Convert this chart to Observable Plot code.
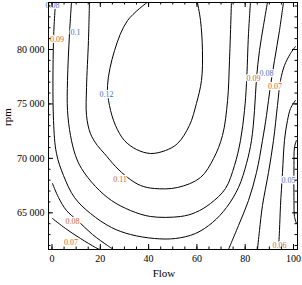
<!DOCTYPE html>
<html>
<head>
<meta charset="utf-8">
<script src="https://cdn.jsdelivr.net/npm/d3@7"></script>
<script src="https://cdn.jsdelivr.net/npm/@observablehq/plot@0.6"></script>
<style>
html, body { margin: 0; padding: 0; background: #fff; }
#chart svg { display: block; }
</style>
</head>
<body>
<div id="chart"></div>
<script>
// Axis ticks
const xMajor = [0, 20, 40, 60, 80, 100];
const xMinor = d3.range(0, 101, 5);
const yMajor = [65000, 70000, 75000, 80000];
const yTickLabels = ["65 000", "70 000", "75 000", "80 000"];
const yMinor = d3.range(62000, 84001, 1000);

// Contour lines: [Flow, rpm]
const c012 = [[39.5,84340],[31.3,82664],[25.9,79908],[23.0,76693],[23.8,74856],[26.3,73019],[30.0,71642],[35.0,70815],[40.8,70448],[47.0,70723],[52.0,71367],[56.9,73019],[59.8,75040],[61.9,77153],[62.3,79908],[61.5,82664],[60.2,84340]];
const c011 = [[15.5,84340],[15.1,80827],[14.3,76510],[14.3,73938],[15.9,72285],[18.8,71182],[21.7,70448],[26.3,69254],[31.3,68243],[36.7,67508],[42.4,67233],[52.0,67325],[61.5,68243],[66.9,69989],[70.6,72101],[72.7,75316],[73.5,78990],[74.3,84340]];
const c010 = [[8.07,84340],[7.25,81470],[6.42,77153],[6.42,74397],[7.66,72101],[9.73,70264],[12.22,69070],[18.01,67417],[24.64,66131],[32.5,65212],[40.79,64661],[53.21,64661],[59.42,65029],[65.63,65855],[71.84,67233],[75.57,69346],[78.05,71642],[79.71,74397],[80.54,76877],[81.37,81470],[82.19,84340]];
const c009 = [[1.45,84340],[0.62,80827],[0.62,73479],[1.86,70448],[4.76,68427],[9.32,66406],[15.94,64937],[24.64,63651],[32.5,63008],[42.44,62641],[51.14,62641],[59.42,63100],[66.46,64110],[72.26,65488],[77.23,67325],[80.54,69530],[82.61,71642],[83.85,74397],[84.68,77336],[85.92,79908],[87.58,82204],[89.23,84340]];
const c008a = [[0.2,67692],[2.69,66406],[6.0,65212],[10.56,64294],[16.77,63008],[22.98,61997],[25.47,61630]];
const c008b = [[95.86,84340],[94.2,81745],[92.13,78990],[90.48,76693],[88.82,73938],[87.16,71642],[84.68,68702],[81.37,66131],[77.23,63834],[73.08,61630]];
const c007a = [[0.2,64477],[5.59,63559],[11.8,62641],[18.01,61814],[19.67,61630]];
const c007b = [[100.8,80276],[98.76,79633],[96.27,78530],[94.62,77153],[93.37,74856],[91.72,71642],[89.65,68702],[87.16,65672],[85.92,63375],[85.09,61630]];
const c006 = [[100.8,75316],[98.76,74581],[97.52,73479],[96.27,71642],[95.45,68702],[94.62,65672],[94.2,63375],[93.79,61630]];
const c005 = [[101.2,71642],[100.41,70999],[100.2,69346],[100.2,66131],[100.41,64661],[101.2,64018]];

const contours = [
  ["0.12", c012], ["0.11", c011], ["0.1", c010], ["0.09", c009],
  ["0.08a", c008a], ["0.08b", c008b], ["0.07a", c007a], ["0.07b", c007b],
  ["0.06", c006], ["0.05", c005]
];
const lineRows = contours.flatMap(([id, pts]) => pts.map(([flow, rpm]) => ({id, flow, rpm})));

// Contour labels
const labelText  = ["0.08","0.09","0.1","0.12","0.11","0.08","0.07","0.06","0.05","0.09","0.08","0.07"];
const labelFlow  = [0.2, 2.07, 9.73, 22.57, 28.16, 8.49, 7.87, 94.2, 97.93, 83.44, 88.82, 92.34];
const labelRpm   = [84041, 80964, 81561, 75913, 68105, 64248, 62319, 61997, 67968, 77336, 77842, 76602];
const labelTone  = ["b","o","b","b","o","o","o","o","b","o","b","o"];
const labels = labelText.map((t, i) => ({t, flow: labelFlow[i], rpm: labelRpm[i], tone: labelTone[i]}));

const serif = "'Liberation Serif', 'Times New Roman', serif";
const W = 302, H = 285, mL = 48, mR = 5, mT = 2, mB = 36;
const fw = W - mL - mR, fh = H - mT - mB;

const chart = Plot.plot({
  width: W, height: H,
  marginLeft: mL, marginRight: mR, marginTop: mT, marginBottom: mB,
  style: {fontFamily: serif, fontSize: "10px", background: "#fff", color: "#000"},
  x: {domain: [-1.45, 101.66], label: null},
  y: {domain: [61630, 84317], label: null},
  marks: [
    Plot.line(lineRows, {x: "flow", y: "rpm", z: "id", stroke: "black", strokeWidth: 1, curve: "catmull-rom", clip: true}),
    Plot.text(labels.filter(d => d.tone === "b"), {x: "flow", y: "rpm", text: "t", fill: "#3f72c6", stroke: "white", strokeWidth: 2.5, fontSize: 8, fontFamily: serif}),
    Plot.text(labels.filter(d => d.tone === "o"), {x: "flow", y: "rpm", text: "t", fill: "#cc6634", stroke: "white", strokeWidth: 2.5, fontSize: 8, fontFamily: serif}),
    Plot.frame({stroke: "black", strokeWidth: 1}),
    // minor ticks (inward, all four sides)
    Plot.tickX(xMinor, {x: d => d, insetTop: fh - 2.5, stroke: "black"}),
    Plot.tickX(xMinor, {x: d => d, insetBottom: fh - 2.5, stroke: "black"}),
    Plot.tickY(yMinor, {y: d => d, insetRight: fw - 2.5, stroke: "black"}),
    Plot.tickY(yMinor, {y: d => d, insetLeft: fw - 2.5, stroke: "black"}),
    // major ticks
    Plot.tickX(xMajor, {x: d => d, insetTop: fh - 5, stroke: "black"}),
    Plot.tickX(xMajor, {x: d => d, insetBottom: fh - 5, stroke: "black"}),
    Plot.tickY(yMajor, {y: d => d, insetRight: fw - 5, stroke: "black"}),
    Plot.tickY(yMajor, {y: d => d, insetLeft: fw - 5, stroke: "black"}),
    Plot.axisX(xMajor, {tickSize: 0, tickPadding: 5, fontSize: 10, label: null, tickFormat: d => String(d)}),
    Plot.axisY(yMajor, {tickSize: 0, tickPadding: 4, fontSize: 10, label: null, tickFormat: d => yTickLabels[yMajor.indexOf(d)]}),
    Plot.text(["Flow"], {frameAnchor: "bottom", dy: 27, dx: -9, text: d => d, fontSize: 11, fontFamily: serif}),
    Plot.text(["rpm"], {frameAnchor: "left", dx: -41, rotate: -90, text: d => d, fontSize: 11, fontFamily: serif})
  ]
});
document.getElementById("chart").appendChild(chart);
</script>
</body>
</html>
